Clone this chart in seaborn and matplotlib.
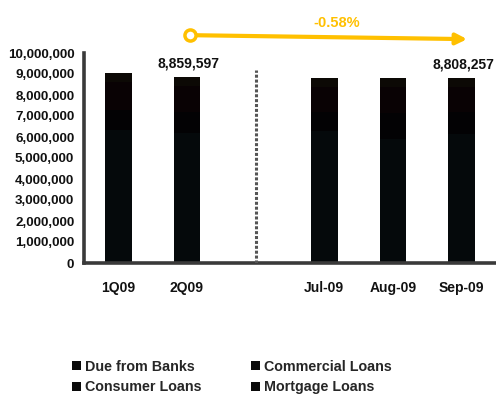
import matplotlib
matplotlib.use("Agg")
import matplotlib.pyplot as plt
from matplotlib.patches import Patch
from matplotlib.ticker import FuncFormatter, FixedLocator
import seaborn as sns
import pandas as pd
import numpy as np

# Loan portfolio by period (stack order bottom -> top)
periods = ["1Q09", "2Q09", "Jul-09", "Aug-09", "Sep-09"]
slot_order = ["1Q09", "2Q09", "", "Jul-09", "Aug-09", "Sep-09"]
commercial_loans = [6350000, 6200000, 6300000, 5900000, 6150000]
consumer_loans = [950000, 1000000, 900000, 1250000, 1050000]
mortgage_loans = [1300000, 1250000, 1200000, 1250000, 1200000]
due_from_banks = [450000, 409597, 420000, 410000, 408257]

series_names = ["Commercial Loans", "Consumer Loans", "Mortgage Loans", "Due from Banks"]
series_colors = ["#05090b", "#030204", "#090204", "#0c0905"]
series_values = [commercial_loans, consumer_loans, mortgage_loans, due_from_banks]

labelled = ["2Q09", "Sep-09"]
change_text = "-0.58%"
yticks = [0, 1000000, 2000000, 3000000, 4000000, 5000000,
          6000000, 7000000, 8000000, 9000000, 10000000]

sns.set_style("white")
plt.rcParams["font.family"] = ["Liberation Sans", "DejaVu Sans"]
plt.rcParams["font.weight"] = "bold"
fs = 10

fig = plt.figure(figsize=(4.96, 3.95), dpi=100)
ax = fig.add_axes([84 / 496, 132 / 395, 412 / 496, 210 / 395])

# cumulative stacks, drawn tallest first so lower layers sit on top
cum = np.cumsum(np.array(series_values, dtype=float), axis=0)
for i in range(len(series_names) - 1, -1, -1):
    df = pd.DataFrame({"period": periods, "value": cum[i]})
    sns.barplot(data=df, x="period", y="value", order=slot_order,
                color=series_colors[i], saturation=1, width=0.39,
                edgecolor="none", ax=ax)

totals = cum[-1]
for p in labelled:
    idx = periods.index(p)
    xpos = slot_order.index(p)
    ax.annotate(f"{int(totals[idx]):,}", xy=(xpos, totals[idx]),
                xytext=(1, 5), textcoords="offset points",
                ha="center", va="bottom", fontsize=fs, fontweight="bold",
                color="#111111", annotation_clip=False)

# separator between quarterly and monthly figures
ax.plot([2, 2], [0, 9200000], linestyle=(0, (1, 0.6)), color="#555555",
        lw=2.2, zorder=3)

# change arrow from 2Q09 to Sep-09
gold = "#FFC000"
ax.annotate("", xy=(5.08, 10660000), xytext=(1.04, 10850000),
            arrowprops=dict(arrowstyle="-|>", color=gold, lw=3,
                            mutation_scale=16, shrinkA=0, shrinkB=0),
            annotation_clip=False)
ax.plot([1.04], [10850000], "o", ms=8, mfc="white", mec=gold, mew=2.5,
        clip_on=False, zorder=5)
ax.text(3.18, 11420000, change_text, color=gold, fontsize=fs + 0.5,
        fontweight="bold", ha="center", va="center")

ax.set_xlim(-0.5, 5.5)
ax.set_ylim(0, 10000000)
ax.set_xlabel("")
ax.set_ylabel("")
ax.yaxis.set_major_locator(FixedLocator(yticks))
ax.yaxis.set_major_formatter(FuncFormatter(lambda v, _: f"{int(v):,}"))
ax.xaxis.set_minor_locator(FixedLocator([0.5, 1.5, 2.5, 3.5, 4.5]))

for s in ["top", "right"]:
    ax.spines[s].set_visible(False)
for s in ["left", "bottom"]:
    ax.spines[s].set_color("#3a3a3a")
    ax.spines[s].set_linewidth(2.6)

ax.tick_params(axis="y", which="major", direction="out", length=4, width=2,
               color="#3a3a3a", labelsize=9.6, labelcolor="#111111", pad=3)
ax.tick_params(axis="x", which="major", length=0, labelsize=fs,
               labelcolor="#111111", pad=13)
ax.tick_params(axis="x", which="minor", direction="out", length=4, width=2,
               color="#3a3a3a")
for lbl in ax.get_xticklabels() + ax.get_yticklabels():
    lbl.set_fontweight("bold")

handles = [Patch(facecolor="#0a0a0a", edgecolor="none", label=n)
           for n in ["Due from Banks", "Consumer Loans",
                     "Commercial Loans", "Mortgage Loans"]]
fig.legend(handles=handles, ncol=2, loc="upper left",
           bbox_to_anchor=(72 / 496, 1 - 360 / 395), frameon=False,
           fontsize=fs + 0.3, handlelength=0.6, handleheight=0.6,
           handletextpad=0.3, columnspacing=3.5, labelspacing=0.45,
           borderpad=0, borderaxespad=0)

fig.savefig("out.png", dpi=100)
